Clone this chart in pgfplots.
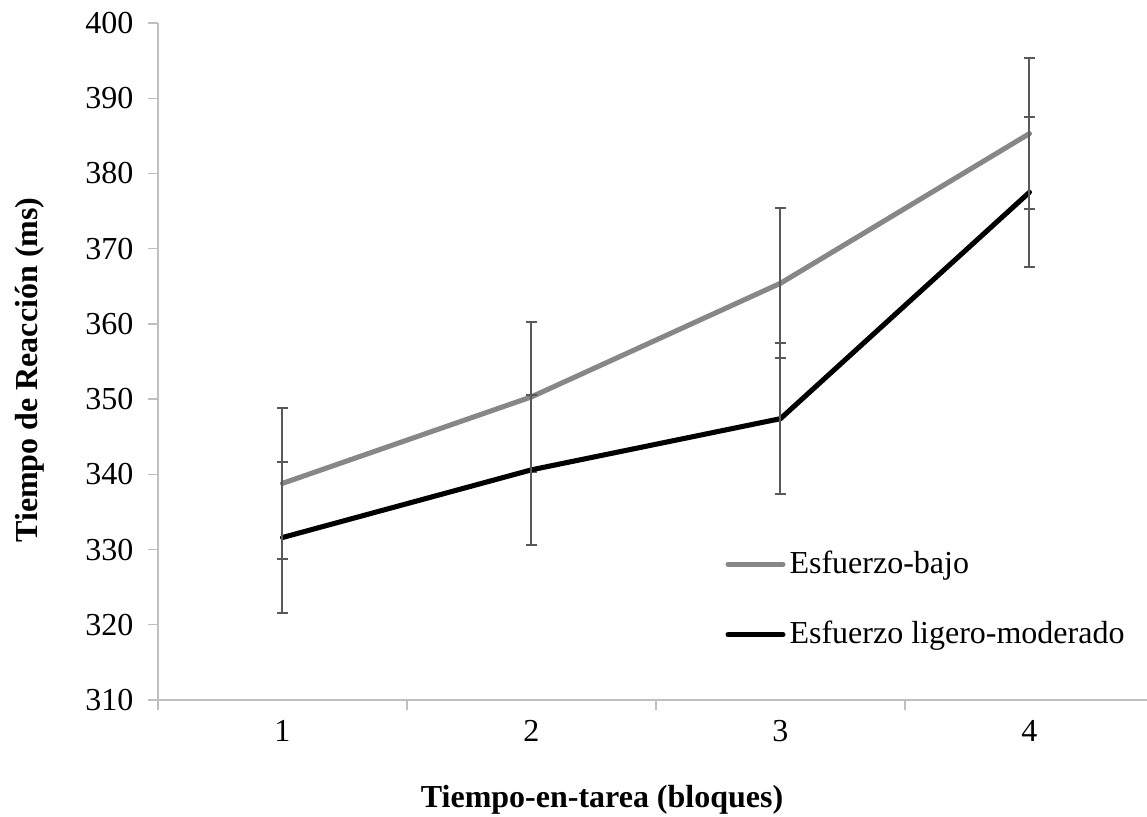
\documentclass[border=0pt]{standalone}
\usepackage{pgfplots}
\pgfplotsset{compat=1.18}
\usepackage{fontspec}
\setmainfont{Liberation Serif}

\definecolor{lowgray}{HTML}{878787}
\definecolor{axisgray}{HTML}{BFBFBF}
\definecolor{errgray}{HTML}{595959}

% mean reaction time per block, with +/- error
\pgfplotstableread{
block rt err
1 338.8 10
2 350.3 10
3 365.4 10
4 385.3 10
}\lowtable
\pgfplotstableread{
block rt err
1 331.6 10
2 340.6 10
3 347.4 10
4 377.5 10
}\modtable

\begin{document}
\begin{tikzpicture}[x=1pt,y=1pt]
\useasboundingbox (-59.25,-43.875) rectangle (370.875,262.5);
\begin{axis}[
  at={(0,0)}, anchor=south west,
  scale only axis, width=370.875pt, height=253.875pt,
  xmin=0.5, xmax=4.472, ymin=310, ymax=400,
  axis x line*=bottom, axis y line*=left,
  axis line style={axisgray, line width=0.5pt},
  xtick={0.5,1.5,2.5,3.5}, xticklabels={},
  extra x ticks={1,2,3,4}, extra x tick labels={1,2,3,4},
  extra x tick style={major tick length=0pt},
  ytick={310,320,...,400},
  tick align=outside, major tick length=3.7pt,
  tick style={axisgray, line width=0.5pt},
  /pgf/number format/assume math mode=true,
  tick label style={font=\fontsize{12}{14}\selectfont},
  xticklabel style={yshift=-4pt},
  yticklabel style={xshift=-2pt},
  xlabel={\textbf{Tiempo-en-tarea (bloques)}},
  ylabel={\textbf{Tiempo de Reacción (ms)}},
  label style={font=\fontsize{12}{14}\selectfont},
  xlabel style={at={(axis description cs:0.449,-0.1477)}, anchor=center},
  ylabel style={at={(axis description cs:-0.1294,0.4874)}, anchor=center},
  legend style={at={(axis description cs:0.5733,0.1485)}, anchor=west,
    draw=none, fill=none, inner sep=0pt, row sep=13.5pt,
    font=\fontsize{12}{14}\selectfont,
    nodes={inner sep=1.5pt}},
  legend cell align=left,
  legend image code/.code={\draw[#1] (0pt,0pt) -- (20.6pt,0pt);},
  clip=false,
]
\addplot[lowgray, line width=1.9pt, line cap=round, line join=round,
  error bars/.cd, y dir=both, y explicit,
  error bar style={errgray, line width=0.75pt, line cap=butt},
  error mark options={errgray, rotate=90, mark size=2.1pt, line width=0.75pt}]
  table[x=block, y=rt, y error=err] {\lowtable};
\addlegendentry{Esfuerzo-bajo}
\addplot[black, line width=1.9pt, line cap=round, line join=round,
  error bars/.cd, y dir=both, y explicit,
  error bar style={errgray, line width=0.75pt, line cap=butt},
  error mark options={errgray, rotate=90, mark size=2.1pt, line width=0.75pt}]
  table[x=block, y=rt, y error=err] {\modtable};
\addlegendentry{Esfuerzo ligero-moderado}
\end{axis}
\end{tikzpicture}
\end{document}
